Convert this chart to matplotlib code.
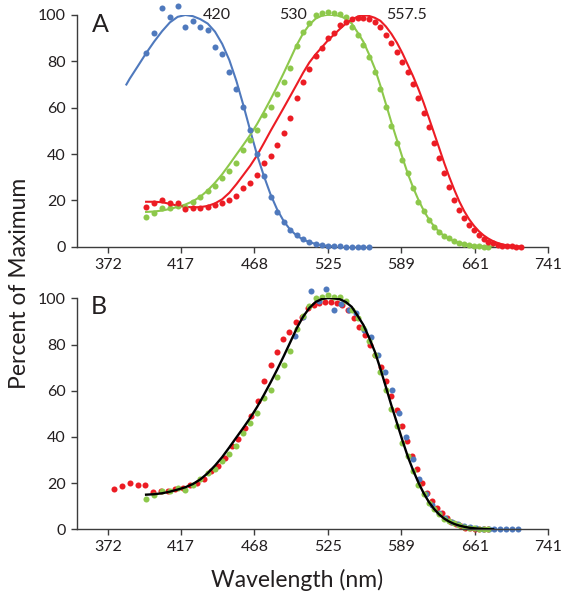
import matplotlib
matplotlib.use("Agg")
import matplotlib.pyplot as plt
import numpy as np

plt.rcParams['font.family'] = ['Lato', 'DejaVu Sans']

# ---------------- data ----------------
# measurement grid (nm), 5 nm steps
wl_grid = [395, 400, 405, 410, 415, 420, 425, 430, 435, 440, 445, 450, 455, 460,
           465, 470, 475, 480, 485, 490, 495, 500, 505, 510, 515, 520, 525, 530,
           535, 540, 545, 550, 555, 560, 565, 570, 575, 580, 585, 590, 595, 600,
           605, 610, 615, 620, 625, 630, 635, 640, 645, 650, 655, 660, 665, 670,
           675, 680, 685, 690, 695, 700, 705, 710]

peaks = [420, 530, 557.5]
peak_labels = ["420", "530", "557.5"]

blue_pts = [83.7, 92.1, 103, 99, 103.9, 95, 97.5, 95, 93.5, 86.3, 83.2, 75.5, 68,
            60.4, 50.4, 40, 30.6, 21.6, 15.1, 10.5, 7.2, 5, 3.3, 2.2, 1.3, 0.8,
            0.4, 0.2, 0.1, 0, 0, 0, 0, 0]

green_pts = [13, 14.7, 16.6, 16.6, 17.7, 17, 19.4, 21.6, 24.2, 26.2, 29.5, 32.8,
             36, 41.7, 46, 50.4, 56.8, 60.4, 65.8, 71.2, 77, 86.8, 92.5, 96.7,
             100.1, 100.7, 101.4, 100.7, 100.4, 99, 95, 91.4, 87, 81.7, 75.5, 68,
             60.4, 52.1, 44.6, 37.4, 31.7, 25.2, 19.4, 15.5, 11.5, 8.6, 6.5, 4.6,
             3.6, 2.6, 1.7, 1.2, 0.7, 0.4, 0.1, 0, 0]

red_pts = [17.3, 18.7, 20.2, 19, 19, 16.1, 16.6, 16.6, 17.3, 18, 19, 20.2,
           21.9, 25.2, 27.4, 30.9, 36, 39.1, 43.9, 49.2, 55.4, 64, 71.2, 76.6,
           82.3, 85.6, 89.9, 92.1,
           95.7, 97.1, 98.1, 98.6, 98.6, 98.1, 97.1, 95, 91.4, 87.8, 84.2, 79.8,
           75.5, 70.2, 64, 57.6, 51.8, 44.6, 38.2, 31.7, 25.9, 20.2, 15.8, 12.3,
           9.4, 7.2, 5, 3.2, 2.2, 1.4, 0.7, 0.4, 0.2, 0.1, 0, 0]

# fitted template curves
blue_fit_wl = [383, 385, 390, 395, 400, 405, 410, 415, 420, 425, 430, 435, 440,
               445, 450, 455, 460, 465, 470, 475, 480, 485, 490, 495, 500, 505,
               510, 515, 520, 525, 530]
blue_fit = [70, 72.5, 78, 83.5, 88.5, 93, 96.8, 99.2, 100, 99.5, 98.2, 96.3, 92.8,
            87.5, 80.5, 71.5, 61, 50, 39.5, 30.5, 22.5, 16, 11, 7.3, 4.8, 3.1,
            2, 1.2, 0.6, 0.3, 0.1]

green_fit = [15, 15.2, 15.6, 16.3, 17.2, 18.2, 19.6, 21.6, 24.3, 27.6, 31.3, 35.5,
             39.8, 44, 48.3, 53, 58.2, 63.6, 69.2, 75, 81, 87, 92, 95.8, 98.4,
             99.7, 100.1, 100, 99.6, 98.4, 96.3, 92.5, 88.5, 83, 77, 69.5, 61.5,
             53.5, 46, 38.5, 31.5, 25.5, 20.2, 15.6, 11.8, 8.8, 6.4, 4.6, 3.3,
             2.3, 1.6, 1.1, 0.7, 0.45, 0.3, 0.15, 0.05, 0]

red_fit = [19.4, 19.4, 19.2, 18.5, 17.7, 17.2, 17, 17.1, 17.6, 18.7, 20.5, 23.3,
           27, 31, 35, 39.5, 44.7, 50, 55, 60, 65, 70, 75, 79.5, 83, 86, 89, 91.5,
           94, 96.3, 98, 99.3, 100, 99.6, 98.8, 97.5, 95, 91.8, 88, 83.5, 78.5,
           73.5, 68, 62, 55.5, 49, 42.5, 36, 30, 24.5, 19.5, 15.3, 11.8, 9, 6.7,
           4.9, 3.5, 2.4, 1.6, 1.0, 0.6, 0.35, 0.2, 0.1]

xticks = [372, 417, 468, 525, 589, 661, 741]
yticks = [0, 20, 40, 60, 80, 100]

c_blue = '#4f79bd'
c_green = '#8dc84b'
c_red = '#ec1c24'
c_axis = '#3c3c3c'
c_text = '#231f20'

fig = plt.figure(figsize=(5.66, 6.0), dpi=100)
axA = fig.add_axes([0.1360, 0.5888, 0.8322, 0.3862])
axB = fig.add_axes([0.1360, 0.1178, 0.8322, 0.3850])


def style(ax):
    ax.set_xscale('log')
    ax.set_xlim(354.5, 741)
    ax.set_ylim(0, 100)
    ax.set_xticks(xticks)
    ax.set_xticklabels([str(t) for t in xticks])
    ax.minorticks_off()
    ax.set_yticks(yticks)
    for s in ['top', 'right']:
        ax.spines[s].set_visible(False)
    for s in ['left', 'bottom']:
        ax.spines[s].set_color(c_axis)
        ax.spines[s].set_linewidth(1.0)
    ax.tick_params(axis='both', colors=c_axis, labelcolor=c_text,
                   labelsize=11.5, length=4, width=1.0, pad=4)


def g(n):
    return wl_grid[:n]


ms = 19
lw = 1.5
# ---- panel A ----
axA.plot(blue_fit_wl, blue_fit, color=c_blue, lw=lw, zorder=2)
axA.plot(g(len(green_fit)), green_fit, color=c_green, lw=lw, zorder=2)
axA.plot(g(len(red_fit)), red_fit, color=c_red, lw=lw, zorder=2)
axA.scatter(g(len(blue_pts)), blue_pts, s=ms, color=c_blue, lw=0, zorder=3, clip_on=False)
axA.scatter(g(len(green_pts)), green_pts, s=ms, color=c_green, lw=0, zorder=3, clip_on=False)
axA.scatter(g(len(red_pts)), red_pts, s=ms, color=c_red, lw=0, zorder=3, clip_on=False)
style(axA)
axA.text(0.049, 0.957, "A", transform=axA.transAxes, fontsize=18,
         ha='center', va='center', color=c_text)
label_pos = [441, 497, 594]
for lp, lab in zip(label_pos, peak_labels):
    axA.text(lp, 100, lab, fontsize=11.5, ha='center', va='center', color=c_text)

# ---- panel B ----
ref = peaks[1]
for pts, pk, col in [(red_pts, peaks[2], c_red), (blue_pts, peaks[0], c_blue),
                     (green_pts, peaks[1], c_green)]:
    xs = [w * ref / pk for w in g(len(pts))]
    axB.scatter(xs, pts, s=ms, color=col, lw=0, zorder=2, clip_on=False)
axB.plot(g(len(green_fit)), green_fit, color='black', lw=1.7, zorder=3)
style(axB)
axB.text(0.047, 0.9645, "B", transform=axB.transAxes, fontsize=18,
         ha='center', va='center', color=c_text)

fig.text(20 / 566, 1 - 283 / 600, "Percent of Maximum", rotation=90,
         fontsize=16.5, ha='center', va='center', color=c_text)
fig.text(296.7 / 566, 1 - 580 / 600, "Wavelength (nm)", fontsize=16.5,
         ha='center', va='center', color=c_text)

fig.savefig("out.png", dpi=100)
